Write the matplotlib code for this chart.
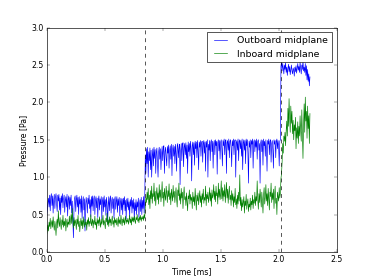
import numpy as np
import matplotlib
matplotlib.use("Agg")
import matplotlib.pyplot as plt

plt.style.use("classic")

# times of the two events [ms]
t_events = [0.85, 2.02]
t_end = 2.27

# outboard midplane pressure [Pa], sampled every 0.005 ms
outboard_pre = [
    0.50, 0.58, 0.66, 0.72, 0.60, 0.76, 0.55, 0.74, 0.78, 0.62,
    0.75, 0.52, 0.70, 0.77, 0.58, 0.73, 0.78, 0.64, 0.54, 0.76,
    0.68, 0.77, 0.56, 0.72, 0.50, 0.75, 0.66, 0.78, 0.59, 0.71,
    0.76, 0.53, 0.69, 0.74, 0.60, 0.77, 0.48, 0.70, 0.75, 0.57,
    0.73, 0.62, 0.76, 0.52, 0.68, 0.45, 0.19, 0.58, 0.72, 0.75,
    0.54, 0.70, 0.76, 0.60, 0.73, 0.50, 0.74, 0.64, 0.71, 0.53,
    0.75, 0.45, 0.68, 0.74, 0.56, 0.71, 0.28, 0.62, 0.73, 0.66,
    0.52, 0.72, 0.64, 0.76, 0.58, 0.70, 0.47, 0.74, 0.61, 0.75,
    0.55, 0.71, 0.75, 0.50, 0.69, 0.74, 0.59, 0.72, 0.46, 0.70,
    0.75, 0.56, 0.71, 0.63, 0.74, 0.44, 0.68, 0.73, 0.54, 0.75,
    0.60, 0.70, 0.49, 0.73, 0.65, 0.38, 0.62, 0.74, 0.55, 0.71,
    0.75, 0.52, 0.69, 0.73, 0.58, 0.71, 0.45, 0.70, 0.74, 0.57,
    0.68, 0.74, 0.53, 0.71, 0.62, 0.73, 0.48, 0.66, 0.72, 0.56,
    0.71, 0.50, 0.72, 0.63, 0.74, 0.55, 0.69, 0.44, 0.71, 0.60,
    0.72, 0.56, 0.67, 0.47, 0.70, 0.61, 0.73, 0.52, 0.69, 0.58,
    0.71, 0.43, 0.66, 0.55, 0.70, 0.50, 0.67, 0.60, 0.72, 0.46,
    0.64, 0.70, 0.54, 0.73, 0.50, 0.69, 0.58, 0.74, 0.52, 0.70,
]
outboard_mid = [
    1.30, 1.05, 1.38, 1.18, 1.40, 1.00, 1.34, 1.22, 1.39, 1.10,
    1.36, 1.00, 1.28, 1.38, 1.15, 1.40, 1.25, 1.37, 1.05, 1.33,
    1.39, 1.20, 1.00, 1.34, 1.40, 1.24, 1.38, 1.10, 1.30, 1.41,
    1.22, 1.38, 1.42, 1.05, 1.34, 1.40, 1.26, 1.15, 1.41, 1.32,
    1.43, 1.12, 1.36, 1.42, 1.24, 1.44, 1.02, 1.37, 1.43, 1.28,
    1.41, 1.18, 1.44, 1.32, 1.08, 1.42, 1.45, 1.26, 1.38, 1.44,
    0.90, 1.35, 1.45, 1.22, 1.43, 1.46, 1.14, 1.40, 1.45, 1.30,
    1.46, 1.25, 1.43, 1.05, 1.47, 1.34, 1.45, 1.28, 1.48, 1.38,
    0.95, 1.42, 1.47, 1.30, 1.46, 1.16, 1.48, 1.38, 1.47, 1.26,
    1.49, 1.36, 1.10, 1.47, 1.40, 1.49, 1.28, 1.45, 1.48, 1.20,
    1.45, 1.49, 1.32, 1.47, 1.08, 1.48, 1.40, 1.50, 1.00, 1.44,
    1.36, 1.49, 1.22, 1.47, 1.50, 1.34, 1.48, 1.12, 1.45, 1.49,
    1.30, 1.50, 1.42, 1.48, 1.04, 1.46, 1.50, 1.35, 1.49, 1.24,
    1.47, 1.50, 1.38, 1.15, 1.49, 1.42, 1.51, 1.30, 1.48, 1.50,
    1.05, 1.46, 1.49, 1.36, 1.51, 1.26, 1.48, 1.50, 1.40, 1.14,
    1.49, 1.42, 1.51, 1.30, 1.48, 1.50, 1.00, 1.46, 1.49, 1.36,
    1.51, 1.22, 1.48, 1.50, 1.38, 1.49, 1.28, 1.51, 1.10, 1.46,
    1.50, 1.36, 1.49, 1.18, 1.51, 1.42, 1.50, 1.32, 0.92, 1.48,
    1.40, 1.50, 1.26, 1.49, 1.44, 1.51, 1.12, 1.47, 1.50, 1.34,
    1.49, 1.40, 1.51, 1.24, 1.48, 1.50, 1.36, 1.45, 0.92, 1.46,
    1.50, 1.34, 1.49, 1.16, 1.51, 1.42, 1.48, 1.28, 1.50, 1.38,
    1.08, 1.49, 1.44, 1.51, 1.30, 1.48, 1.50, 1.20, 1.45, 1.49,
    1.36, 1.12, 1.50, 1.44, 1.49, 1.26, 1.48, 1.51, 1.38, 1.49,
    1.42, 1.15, 1.48, 1.50,
]
outboard_post = [
    2.48, 2.55, 2.42, 2.52, 2.46, 2.38, 2.50, 2.44, 2.53, 2.40,
    2.47, 2.36, 2.45, 2.51, 2.41, 2.48, 2.37, 2.44, 2.50, 2.42,
    2.38, 2.46, 2.43, 2.35, 2.47, 2.41, 2.49, 2.39, 2.45, 2.52,
    2.43, 2.48, 2.40, 2.54, 2.45, 2.38, 2.50, 2.44, 2.56, 2.42,
    2.47, 2.40, 2.52, 2.36, 2.49, 2.30, 2.44, 2.28, 2.38, 2.22,
    2.34,
]

# inboard midplane pressure [Pa], same sampling
inboard_pre = [
    0.24, 0.30, 0.36, 0.28, 0.40, 0.34, 0.45, 0.31, 0.38, 0.42,
    0.33, 0.47, 0.36, 0.29, 0.41, 0.35, 0.22, 0.39, 0.44, 0.32,
    0.55, 0.40, 0.34, 0.46, 0.37, 0.30, 0.43, 0.36, 0.49, 0.33,
    0.41, 0.35, 0.45, 0.28, 0.39, 0.44, 0.33, 0.40, 0.37, 0.48,
    0.36, 0.42, 0.50, 0.38, 0.58, 0.41, 0.32, 0.46, 0.35, 0.43,
    0.39, 0.30, 0.44, 0.37, 0.49, 0.34, 0.41, 0.27, 0.38, 0.45,
    0.35, 0.42, 0.31, 0.47, 0.38, 0.33, 0.44, 0.36, 0.40, 0.29,
    0.43, 0.37, 0.46, 0.34, 0.41, 0.38, 0.50, 0.35, 0.39, 0.44,
    0.32, 0.42, 0.37, 0.48, 0.36, 0.40, 0.30, 0.45, 0.38, 0.43,
    0.35, 0.47, 0.39, 0.33, 0.44, 0.37, 0.41, 0.49, 0.36, 0.42,
    0.38, 0.31, 0.45, 0.40, 0.52, 0.36, 0.43, 0.34, 0.47, 0.39,
    0.44, 0.35, 0.41, 0.48, 0.37, 0.42, 0.33, 0.46, 0.39, 0.43,
    0.36, 0.45, 0.40, 0.34, 0.47, 0.38, 0.43, 0.37, 0.49, 0.41,
    0.35, 0.44, 0.39, 0.46, 0.36, 0.42, 0.48, 0.38, 0.43, 0.40,
    0.45, 0.37, 0.42, 0.49, 0.39, 0.44, 0.36, 0.47, 0.41, 0.46,
    0.40, 0.48, 0.42, 0.38, 0.46, 0.43, 0.50, 0.41, 0.45, 0.39,
    0.47, 0.43, 0.49, 0.41, 0.46, 0.44, 0.48, 0.42, 0.50, 0.45,
]
inboard_mid = [
    0.60, 0.72, 0.66, 0.80, 0.70, 0.85, 0.63, 0.76, 0.58, 0.82,
    0.71, 0.88, 0.65, 0.78, 0.74, 0.92, 0.68, 0.81, 0.62, 0.77,
    0.86, 0.70, 0.79, 0.64, 0.90, 0.73, 0.83, 0.67, 0.76, 0.94,
    0.72, 0.80, 0.61, 0.85, 0.75, 0.69, 0.88, 0.78, 0.66, 0.82,
    0.74, 0.91, 0.70, 0.79, 0.63, 0.84, 0.76, 0.68, 0.89, 0.73,
    0.81, 0.66, 0.77, 0.86, 0.71, 0.60, 0.83, 0.75, 0.92, 0.69,
    0.78, 0.64, 0.85, 0.72, 0.80, 0.58, 0.76, 0.87, 0.70, 0.74,
    0.62, 0.79, 0.68, 0.55, 0.75, 0.71, 0.83, 0.64, 0.77, 0.69,
    0.73, 0.58, 0.80, 0.67, 0.74, 0.62, 0.85, 0.70, 0.56, 0.76,
    0.68, 0.79, 0.63, 0.72, 0.82, 0.66, 0.75, 0.60, 0.78, 0.70,
    0.84, 0.65, 0.73, 0.69, 0.88, 0.62, 0.77, 0.71, 0.80, 0.66,
    0.74, 0.86, 0.68, 0.79, 0.61, 0.83, 0.72, 0.76, 0.90, 0.70,
    0.81, 0.67, 0.88, 0.75, 0.79, 0.64, 0.92, 0.73, 0.84, 0.70,
    0.77, 0.95, 0.71, 0.86, 0.68, 0.82, 0.74, 0.90, 0.66, 0.80,
    0.93, 0.72, 0.84, 0.65, 0.79, 0.88, 0.70, 0.76, 0.62, 0.82,
    0.69, 0.78, 0.60, 0.74, 0.66, 0.85, 0.63, 0.71, 0.58, 0.76,
    0.64, 0.80, 0.68, 1.03, 0.62, 0.73, 0.55, 0.70, 0.60, 0.66,
    0.74, 0.52, 0.68, 0.62, 0.77, 0.57, 0.66, 0.71, 0.54, 0.64,
    0.60, 0.72, 0.56, 0.68, 0.63, 0.76, 0.58, 0.70, 0.65, 0.80,
    0.62, 0.74, 0.68, 0.95, 0.70, 0.57, 0.78, 0.66, 0.84, 0.72,
    0.60, 0.80, 0.69, 0.52, 0.76, 0.86, 0.64, 0.73, 0.90, 0.68,
    0.78, 0.62, 0.85, 0.71, 0.56, 0.80, 0.74, 0.92, 0.66, 0.79,
    0.70, 0.84, 0.58, 0.76, 0.88, 0.65, 0.72, 0.50, 0.80, 0.74,
    0.68, 0.86, 0.72, 0.78,
]
inboard_post = [
    0.98, 1.05, 1.20, 1.45, 1.32, 1.55, 1.48, 1.60, 1.42, 1.62,
    1.75, 1.55, 1.92, 1.68, 2.05, 1.80, 1.60, 1.95, 1.72, 1.88,
    1.58, 1.76, 1.50, 1.70, 1.62, 1.80, 1.38, 1.66, 1.52, 1.74,
    1.45, 1.68, 1.55, 1.82, 1.62, 1.48, 1.90, 1.58, 1.25, 1.70,
    1.98, 1.60, 2.07, 1.75, 1.88, 1.52, 1.95, 1.65, 1.82, 1.45,
    1.85,
]


def seg_times(values, start, stop):
    # evenly spaced sample times for one piece of the record
    return np.linspace(start, stop, len(values))


t_pre = seg_times(outboard_pre, 0.0, t_events[0] - 0.005)
t_mid = seg_times(outboard_mid, t_events[0], t_events[1] - 0.005)
t_post = seg_times(outboard_post, t_events[1], t_end)
t = np.concatenate([t_pre, t_mid, t_post])

outboard = outboard_pre + outboard_mid + outboard_post
inboard = inboard_pre + inboard_mid + inboard_post

fig = plt.figure(figsize=(8, 6), dpi=46.75)
fig.patch.set_facecolor("white")
ax = fig.add_subplot(111)

ax.plot(t, outboard, "b-", label="Outboard midplane")
ax.plot(t, inboard, "g-", label="Inboard midplane")
for te in t_events:
    ax.axvline(te, color="k", linestyle="--")

ax.set_xlim(0, 2.5)
ax.set_ylim(0, 3.0)
ax.set_xlabel("Time [ms]")
ax.set_ylabel("Pressure [Pa]")
ax.legend(loc="upper right")

fig.savefig("out.png", dpi=46.75, facecolor="white")
